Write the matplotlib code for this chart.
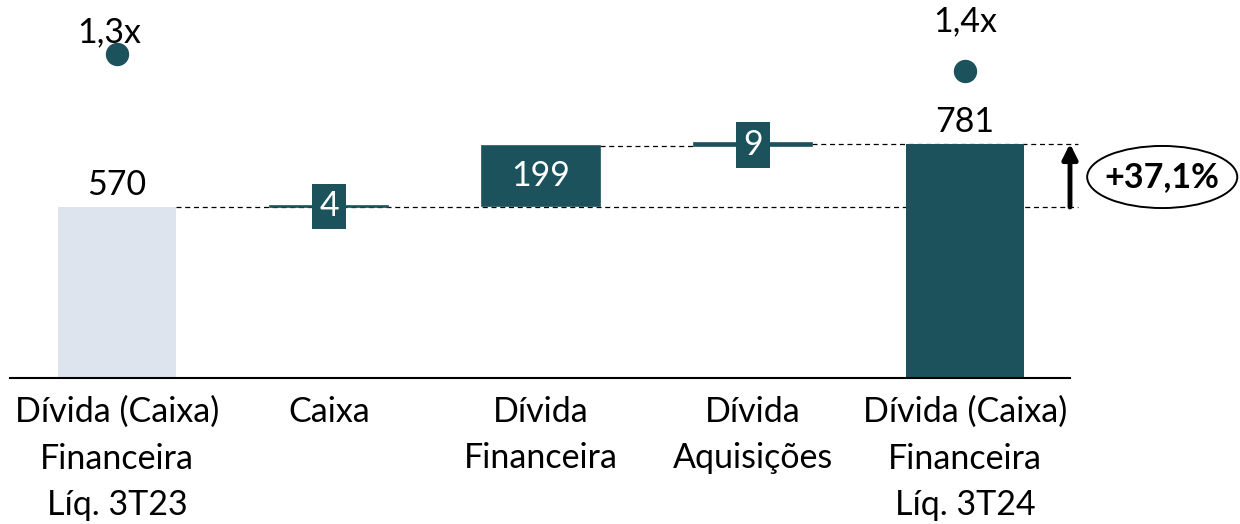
import matplotlib.pyplot as plt
from matplotlib.patches import Ellipse

plt.rcParams['font.family'] = ['Lato', 'DejaVu Sans']

categories = ["Dívida (Caixa)\nFinanceira\nLíq. 3T23", "Caixa", "Dívida\nFinanceira",
              "Dívida\nAquisições", "Dívida (Caixa)\nFinanceira\nLíq. 3T24"]
start_value = 570
deltas = [4, 199, 9]
end_value = 781
leverage = [1.3, 1.4]
leverage_labels = ["1,3x", "1,4x"]
growth_label = "+37,1%"

TEAL = "#1B525C"
LIGHT = "#DEE4EE"
FS = 24.5

fig = plt.figure(figsize=(12.4, 5.24), dpi=100)
ax = fig.add_axes([10 / 1240, 146 / 524, 1060 / 1240, 378 / 524])
ax.set_xlim(-0.505, 4.495)
ax.set_ylim(0, 1260)
w = 0.557

# totals
ax.bar(0, start_value, width=w, color=LIGHT, zorder=3)
ax.bar(4, end_value, width=w, color=TEAL, zorder=3)
ax.text(0, start_value + 20, str(start_value), ha="center", va="bottom", fontsize=FS)
ax.text(4, end_value + 20, str(end_value), ha="center", va="bottom", fontsize=FS)

# floating steps
level = start_value
tops = []
for i, d in enumerate(deltas, start=1):
    ax.bar(i, d, bottom=level, width=w, color=TEAL, edgecolor=TEAL,
           linewidth=1.2, zorder=3)
    mid = level + d / 2
    if d > 50:
        ax.text(i, mid, str(d), ha="center", va="center", color="white",
                fontsize=FS, zorder=4)
    else:
        ax.text(i, mid, str(d), ha="center", va="center", color="white",
                fontsize=FS, zorder=4,
                bbox=dict(boxstyle="square,pad=0.2", fc=TEAL, ec="none"))
    level += d
    tops.append(level)

# connectors
dash = dict(color="black", lw=0.9, ls=(0, (4, 3)), zorder=2, clip_on=False)
ax.plot([w / 2, 4.535], [start_value, start_value], **dash)
ax.plot([2 + w / 2, 3 - w / 2], [tops[1], tops[1]], **dash)
ax.plot([3 + w / 2, 4.535], [end_value, end_value], **dash)

# growth arrow and badge
ax.annotate("", xy=(4.495, end_value), xytext=(4.495, start_value),
            arrowprops=dict(arrowstyle="-|>,head_width=0.45,head_length=0.9",
                            lw=3.5, color="black", shrinkA=0, shrinkB=0),
            annotation_clip=False)
ax.add_patch(Ellipse((4.93, 670), 0.708, 207, fill=False, ec="black", lw=1.4,
                     clip_on=False))
ax.text(4.93, 670, growth_label, ha="center", va="center", fontsize=FS,
        fontweight="bold")

ax.set_xticks(range(len(categories)))
ax.set_xticklabels(categories, fontsize=FS, linespacing=1.55)
ax.tick_params(axis="x", length=0, pad=13)
ax.set_yticks([])
for s in ["top", "left", "right"]:
    ax.spines[s].set_visible(False)
ax.spines["bottom"].set_linewidth(1.5)
ax.spines["bottom"].set_zorder(5)

# leverage dots on an inverted secondary scale
ax2 = ax.twinx()
ax2.set_ylim(3.206, 0.982)
ax2.set_axis_off()
lev_x = [0, 4]
ax2.scatter(lev_x, leverage, s=250, color=TEAL, zorder=3, clip_on=False)
label_offsets = [(-8, 22), (0, 50)]
for x, v, lab, off in zip(lev_x, leverage, leverage_labels, label_offsets):
    ax2.annotate(lab, (x, v), xytext=off, textcoords="offset pixels",
                 ha="center", va="center", fontsize=FS, annotation_clip=False)

fig.savefig("out.png", dpi=100)
